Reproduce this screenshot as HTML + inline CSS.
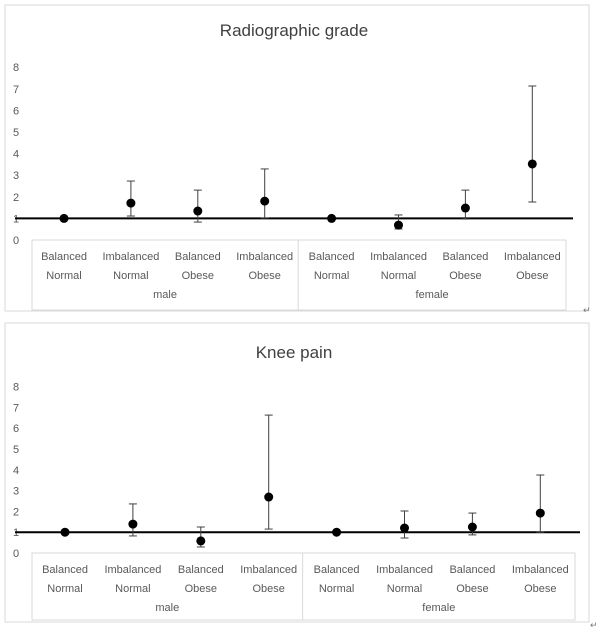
<!DOCTYPE html>
<html><head><meta charset="utf-8"><style>
body{margin:0;background:#fff;width:601px;height:633px;overflow:hidden;font-family:"Liberation Sans",sans-serif}
svg text{font-family:"Liberation Sans",sans-serif}
</style></head><body>
<svg id="s" width="601" height="633"></svg>
<script>
const categories=["Balanced|Normal","Imbalanced|Normal","Balanced|Obese","Imbalanced|Obese","Balanced|Normal","Imbalanced|Normal","Balanced|Obese","Imbalanced|Obese"];
const groups=["male","female"];
const yTicks=[0,1,2,3,4,5,6,7,8];
const radioMean=[1,1.71,1.34,1.8,1,0.69,1.48,3.52];
const radioHi=[1,2.73,2.31,3.29,1,1.16,2.31,7.13];
const radioLo=[1,1.11,0.83,1.02,1,0.51,0.97,1.76];
const painMean=[1,1.39,0.58,2.69,1,1.2,1.25,1.92];
const painHi=[1,2.36,1.25,6.63,1,2.02,1.92,3.75];
const painLo=[1,0.82,0.29,1.15,1,0.72,0.87,1.0];
const NS="http://www.w3.org/2000/svg";
const svg=document.getElementById('s');
function mk(tag,at,parent,txt){const e=document.createElementNS(NS,tag);for(const k in at)e.setAttribute(k,at[k]);if(txt!==undefined)e.textContent=txt;(parent||svg).appendChild(e);return e;}
function chart(cfg){
  const g=mk('g',{});
  
  
  const fr=mk('rect',{x:cfg.bx,y:cfg.by,width:cfg.bw,height:cfg.bh,fill:'none',stroke:'#d9d9d9'},g);
  
  const t=mk('text',{x:cfg.bx+cfg.bw/2-3,y:cfg.ty,'text-anchor':'middle','font-size':17,fill:'#404040'},g,cfg.title);
  
  const y=v=>cfg.y0-v*cfg.unit;
  const x=i=>cfg.x0+i*cfg.step;
  yTicks.forEach(v=>{const e=mk('text',{x:13,y:y(v)+4,'font-size':11,fill:'#595959'},g,String(v));
    });
  const cb=mk('rect',{x:cfg.cx1,y:y(0),width:cfg.cx2-cfg.cx1,height:cfg.cbh,fill:'none',stroke:'#d9d9d9'},g);
  
  const mid=(x(3)+x(4))/2;
  mk('line',{x1:mid,x2:mid,y1:y(0),y2:y(0)+cfg.cbh,stroke:'#d9d9d9'},g);
  categories.forEach((c,i)=>{const [a,b]=c.split('|');
    const e=mk('text',{x:x(i),y:y(0)+20,'text-anchor':'middle','font-size':11,fill:'#595959'},g);
    
    mk('tspan',{x:x(i)},e,a);mk('tspan',{x:x(i),dy:19},e,b);});
  groups.forEach((gr,k)=>{const cx=k===0?(cfg.cx1+mid)/2:(mid+cfg.cx2)/2;
    const e=mk('text',{x:cx,y:y(0)+58,'text-anchor':'middle','font-size':11,fill:'#595959'},g,gr);
    });
  const rl=mk('line',{x1:15,x2:cfg.lx2,y1:y(1),y2:y(1),stroke:'#000','stroke-width':2},g);
  
  cfg.mean.forEach((m,i)=>{
    if(cfg.hi[i]!==cfg.lo[i]){
      const eb=mk('g',{stroke:'#404040','stroke-width':1},g);
      
      mk('line',{x1:x(i),x2:x(i),y1:y(cfg.hi[i]),y2:y(cfg.lo[i])},eb);
      mk('line',{x1:x(i)-4,x2:x(i)+4,y1:y(cfg.hi[i]),y2:y(cfg.hi[i])},eb);
      mk('line',{x1:x(i)-4,x2:x(i)+4,y1:y(cfg.lo[i]),y2:y(cfg.lo[i])},eb);
    }
    const p=mk('circle',{cx:x(i),cy:y(m),r:4.5,fill:'#000'},g);
    
  });
  mk('text',{x:cfg.rx,y:cfg.ry,'font-size':9,fill:'#777'},g,'↵');
}
chart({name:'radiographic-grade-chart',title:'Radiographic grade',bx:5,by:5,bw:584,bh:306,ty:36,y0:240,unit:21.6,x0:64,step:66.9,cx1:32,cx2:566,cbh:70,lx2:573,mean:radioMean,hi:radioHi,lo:radioLo,rx:583,ry:313});
chart({name:'knee-pain-chart',title:'Knee pain',bx:5,by:323,bw:584,bh:299,ty:358,y0:553,unit:20.8,x0:65,step:67.9,cx1:32,cx2:575,cbh:67,lx2:580,mean:painMean,hi:painHi,lo:painLo,rx:590,ry:628});
</script>
</body></html>
